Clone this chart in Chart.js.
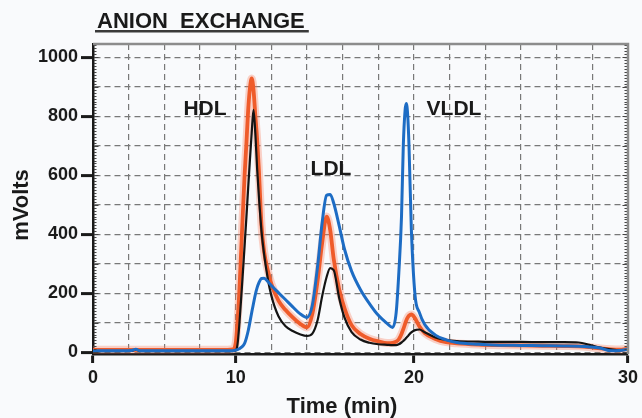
<!DOCTYPE html>
<html>
<head>
<meta charset="utf-8">
<script src="https://cdn.jsdelivr.net/npm/chart.js@4.4.1/dist/chart.umd.min.js"></script>
<style>
  html, body { margin: 0; padding: 0; background: #f9fafc; }
  #wrap { width: 642px; height: 418px; }
</style>
</head>
<body>
<div id="wrap"><canvas id="anionChart" width="642" height="418"></canvas></div>
<script>
// retention time (min), shared by the three traces
const timeMin = [
  0, 2, 2.7, 3.0, 3.3, 5, 7, 9, 9.8,
  10.0, 10.1, 10.2, 10.35, 10.5, 10.6, 10.7, 10.8, 10.9, 11.0,
  11.1, 11.2, 11.3, 11.45, 11.6, 11.8, 12.0, 12.4, 12.8, 13.2,
  13.6, 14.0, 14.3, 14.6, 14.85, 15.1, 15.3, 15.5, 15.8, 16.1,
  16.5, 17.0, 17.5, 18.0, 18.5, 18.8, 19.0, 19.15, 19.3, 19.4,
  19.5, 19.57, 19.65, 19.72, 19.85, 20.05, 20.25, 20.5, 21.0, 21.5,
  22, 23, 24, 25, 26, 27, 27.7, 28.2, 28.7, 29.2, 29.6, 30
];
// detector signal (mVolts)
const orangeTrace = [
  8, 8, 8, 8, 8, 8, 8, 8, 10,
  30, 100, 200, 400, 600, 705, 820, 895, 928, 890,
  805, 725, 620, 430, 340, 278, 232, 175, 143, 118,
  97, 84, 130, 245, 370, 460, 415, 315, 215, 150,
  92, 62, 46, 37, 31, 32, 36, 44, 62, 78,
  96, 108, 118, 124, 128, 115, 88, 65, 45, 34,
  30, 26, 24, 23, 22, 21, 20, 17, 13, 10, 9, 12
];
const blackTrace = [
  4, 4, 5, 9, 4, 4, 4, 4, 4,
  6, 25, 89, 220, 360, 455, 555, 652, 745, 822,
  745, 625, 530, 410, 330, 250, 192, 122, 88, 72,
  61, 55, 63, 110, 190, 255, 285, 278, 185, 118,
  68, 43, 32, 27, 25, 24, 24, 27, 33, 38,
  44, 49, 54, 59, 67, 75, 77, 68, 50, 42,
  38, 36, 35, 35, 34, 34, 33, 25, 16, 10, 7, 8
];
const blueTrace = [
  5, 5, 6, 10, 5, 5, 5, 5, 5,
  7, 9, 12, 18, 30, 48, 72, 102, 135, 165,
  195, 218, 235, 250, 251, 240, 226, 202, 178, 154,
  131, 118, 160, 295, 440, 532, 535, 505, 430, 350,
  275, 212, 165, 125, 97, 84, 134, 270, 460, 700,
  820, 843, 800, 700, 420, 192, 135, 94, 58, 42,
  33, 27, 24, 23, 22, 21, 20, 18, 14, 5, 6, 10
];

const xTickLabels = [0, 10, 20, 30];
const xGridSteps = [4, 5, 6];          // dashed divisions between the labelled times
const yTicks = [0, 100, 200, 300, 400, 500, 600, 700, 800, 900, 1000];
const yTickLabels = [0, 200, 400, 600, 800, 1000];

const ink = '#1a1a1a';
const gridColor = '#787878';
const font = 'Liberation Sans, Arial, Helvetica, sans-serif';

// time axis of the original is not uniform: 0-10, 10-20, 20-30 get 4, 5 and 6 grid boxes
class SegmentedTimeScale extends Chart.LinearScale {
  static id = 'segmentedTime';
  static defaults = Chart.LinearScale.defaults;

  totalUnits() { return xGridSteps.reduce((a, b) => a + b, 0); }

  toUnits(v) {
    let base = 0;
    for (let i = 0; i < xGridSteps.length; i++) {
      const a = xTickLabels[i], b = xTickLabels[i + 1];
      if (v <= b || i === xGridSteps.length - 1) return base + (v - a) / (b - a) * xGridSteps[i];
      base += xGridSteps[i];
    }
    return 0;
  }

  fromUnits(u) {
    let base = 0;
    for (let i = 0; i < xGridSteps.length; i++) {
      const a = xTickLabels[i], b = xTickLabels[i + 1];
      if (u <= base + xGridSteps[i] || i === xGridSteps.length - 1) return a + (u - base) / xGridSteps[i] * (b - a);
      base += xGridSteps[i];
    }
    return 0;
  }

  buildTicks() {
    const ticks = [];
    for (let i = 0; i < xGridSteps.length; i++) {
      const a = xTickLabels[i], b = xTickLabels[i + 1];
      for (let k = 0; k < xGridSteps[i]; k++) ticks.push({ value: a + k * (b - a) / xGridSteps[i] });
    }
    ticks.push({ value: xTickLabels[xTickLabels.length - 1] });
    return ticks;
  }

  getPixelForValue(v) {
    if (v === null || isNaN(v)) return NaN;
    return this.getPixelForDecimal(this.toUnits(v) / this.totalUnits());
  }

  getValueForPixel(p) {
    return this.fromUnits(this.getDecimalForPixel(p) * this.totalUnits());
  }
}
Chart.register(SegmentedTimeScale);

const points = (vals) => timeMin.map((t, i) => ({ x: t, y: vals[i] }));

const decorations = {
  id: 'decorations',
  afterDatasetsDraw(chart) {
    const { ctx, chartArea: a, scales: { y } } = chart;
    ctx.save();
    // small ticks on both vertical edges
    ctx.strokeStyle = '#444';
    ctx.lineWidth = 1;
    for (let v = 0; v <= 1040; v += 10) {
      const py = Math.round(y.getPixelForValue(v)) + 0.5;
      const len = v % 100 === 0 ? 4.5 : 2.5;
      ctx.beginPath();
      ctx.moveTo(a.left + 1, py); ctx.lineTo(a.left + 1 + len, py);
      ctx.moveTo(a.right - 1, py); ctx.lineTo(a.right - 1 - len, py);
      ctx.stroke();
    }
    // grey frame top and right
    ctx.strokeStyle = '#8c8c8c';
    ctx.lineWidth = 2.5;
    ctx.beginPath();
    ctx.moveTo(a.left, a.top); ctx.lineTo(a.right, a.top); ctx.lineTo(a.right, a.bottom);
    ctx.stroke();

    ctx.fillStyle = ink;
    ctx.textBaseline = 'alphabetic';
    // title with underline
    ctx.font = 'bold 22px ' + font;
    ctx.textAlign = 'left';
    const title = 'ANION  EXCHANGE';
    ctx.fillText(title, 97, 28);
    const w = ctx.measureText(title).width;
    ctx.fillStyle = '#3a3a3a';
    ctx.fillRect(95, 30, w + 6, 2.5);

    // peak names
    ctx.fillStyle = ink;
    ctx.font = 'bold 21px ' + font;
    ctx.textAlign = 'center';
    ctx.fillText('HDL', 205, 115);
    ctx.fillText('LDL', 331, 175);
    ctx.fillText('VLDL', 454, 115);

    // axis titles
    ctx.font = 'bold 22px ' + font;
    ctx.fillText('Time (min)', 342, 413);
    ctx.translate(28, 205);
    ctx.rotate(-Math.PI / 2);
    ctx.fillText('mVolts', 0, 0);
    ctx.restore();
  }
};

const ctx = document.getElementById('anionChart').getContext('2d');
const chart = new Chart(ctx, {
  type: 'line',
  data: {
    datasets: [
      { label: 'blue', data: points(blueTrace), borderColor: '#1d6cc4', borderWidth: 3 },
      { label: 'black', data: points(blackTrace), borderColor: '#141414', borderWidth: 2.2 },
      { label: 'orange', data: points(orangeTrace), borderColor: '#ef5b2a', borderWidth: 3.8 },
      { label: 'orange glow', data: points(orangeTrace), borderColor: 'rgba(248,125,90,0.33)', borderWidth: 8 }
    ]
  },
  options: {
    responsive: false,
    animation: false,
    events: [],
    devicePixelRatio: 1,
    layout: { padding: { left: 0, right: 13, top: 44, bottom: 0 } },
    elements: {
      point: { radius: 0 },
      line: { cubicInterpolationMode: 'monotone', fill: false }
    },
    plugins: { legend: { display: false }, tooltip: { enabled: false } },
    scales: {
      x: {
        type: 'segmentedTime',
        min: 0,
        max: 30,
        afterFit: (s) => { s.height = 64; },
        ticks: {
          autoSkip: false,
          maxRotation: 0,
          padding: 4,
          color: ink,
          font: { family: font, size: 18, weight: 'bold' },
          callback: (v) => xTickLabels.includes(v) ? String(v) : ''
        },
        grid: {
          color: (c) => c.tick && c.tick.value === 0 ? 'transparent' : gridColor,
          lineWidth: 1.2,
          tickLength: 9,
          tickWidth: 3,
          tickColor: (c) => xTickLabels.includes(c.tick.value) ? ink : 'transparent'
        },
        border: { color: ink, width: 2.5, dash: [6, 4] }
      },
      y: {
        min: -6,
        max: 1045,
        afterBuildTicks: (s) => { s.ticks = yTicks.map((v) => ({ value: v })); },
        afterFit: (s) => { s.width = 93; },
        ticks: {
          autoSkip: false,
          padding: 3,
          color: ink,
          font: { family: font, size: 18, weight: 'bold' },
          callback: (v) => yTickLabels.includes(v) ? String(v) : ''
        },
        grid: {
          color: gridColor,
          lineWidth: 1.2,
          tickLength: 12,
          tickWidth: 3,
          tickColor: (c) => yTickLabels.includes(c.tick.value) ? ink : 'transparent'
        },
        border: { color: ink, width: 2.5, dash: [6, 4] }
      }
    }
  },
  plugins: [decorations]
});
</script>
</body>
</html>
